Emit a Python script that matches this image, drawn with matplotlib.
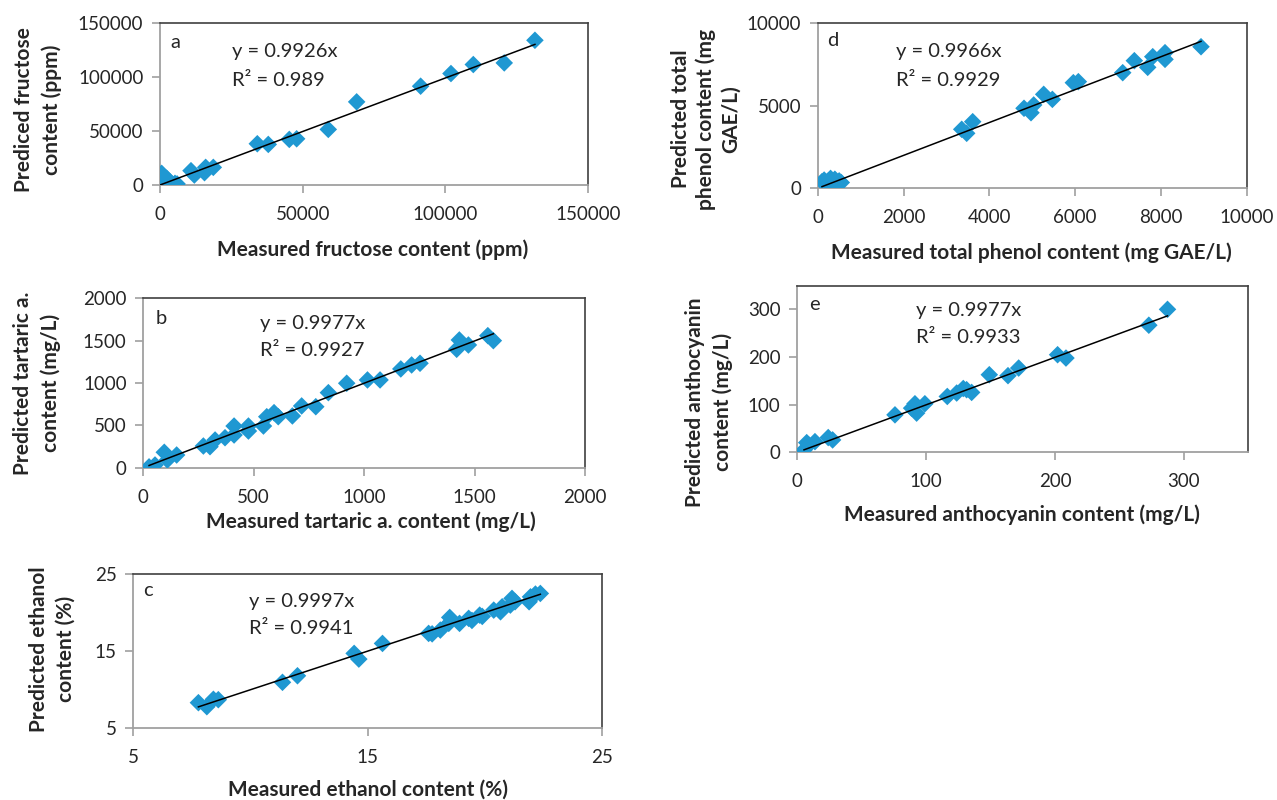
import matplotlib
matplotlib.use("Agg")
import matplotlib.pyplot as plt
import numpy as np

plt.rcParams['font.family'] = ['Lato', 'DejaVu Sans']

# ---------------- data ----------------
# a: fructose (ppm)
a_measured = [131400, 120650, 109800, 101970, 91340, 68920, 58980, 47890, 45310, 37950,
              34100, 18680, 16000, 15600, 10860, 12030, 580, 580, 2330, 300, 5250, 5990, 3500, 1200]
a_predicted = [134250, 113250, 111750, 103400, 91660, 77130, 51570, 42870, 42300, 37650,
               38270, 16360, 16360, 11420, 13270, 9260, 10800, 6200, 6200, 500, 1540, 1000, 3100, 2500]
a_slope, a_r2 = "0.9926", "0.989"

# d: total phenol (mg GAE/L)
d_measured = [8935, 8096, 8096, 7810, 7692, 7381, 7110, 6076, 5959, 5470, 5268, 5035, 4972, 4809,
              3613, 3473, 3357, 100, 150, 200, 250, 300, 350, 400, 450, 500, 550, 300, 200]
d_predicted = [8580, 8220, 7815, 7977, 7330, 7735, 7007, 6463, 6400, 5390, 5695, 5050, 4580, 4850,
               4037, 3333, 3575, 400, 500, 350, 450, 600, 200, 550, 300, 450, 350, 100, 250]
d_slope, d_r2 = "0.9966", "0.9929"

# b: tartaric acid (mg/L)
b_measured = [1585, 1560, 1472, 1431, 1419, 1253, 1215, 1166, 1072, 1015, 921, 838, 781, 717,
              675, 611, 592, 559, 544, 476, 476, 411, 411, 370, 325, 302, 272, 151, 95, 109, 53, 26]
b_predicted = [1500, 1559, 1449, 1508, 1398, 1233, 1213, 1166, 1036, 1036, 997, 886, 720, 729,
               611, 602, 650, 602, 492, 492, 433, 492, 386, 354, 327, 248, 256, 150, 182, 91, 32, 10]
b_slope, b_r2 = "0.9977", "0.9927"

# e: anthocyanin (mg/L)
e_measured = [287.3, 272.8, 208.5, 202.0, 171.8, 163.5, 149.0, 135.3, 131.4, 128.8, 123.7, 116.4,
              99.0, 92.6, 91.3, 88.7, 75.8, 27.4, 24.0, 13.7, 7.3, 5.2, 8.9]
e_predicted = [300.3, 267.0, 198.0, 205.0, 177.0, 161.0, 163.0, 125.8, 131.5, 134.0, 124.5, 117.3,
               102.0, 82.3, 102.0, 92.8, 78.7, 26.0, 31.0, 22.4, 20.3, 4.9, 15.4]
e_slope, e_r2 = "0.9977", "0.9933"

# c: ethanol (%)
c_measured = [7.78, 8.14, 8.42, 8.63, 11.37, 12.01, 14.43, 14.63, 15.64, 17.61, 17.76, 18.11, 18.51,
              18.47, 18.93, 19.32, 19.46, 19.79, 19.90, 20.39, 20.68, 20.75, 21.17, 21.10, 21.30,
              21.96, 22.38, 22.17, 21.90]
c_predicted = [8.32, 7.80, 8.76, 8.71, 10.96, 11.81, 14.71, 13.97, 16.00, 17.30, 17.24, 17.73, 19.37,
               18.60, 18.60, 19.25, 18.98, 19.67, 19.50, 20.32, 20.10, 20.75, 21.84, 20.97, 21.40,
               22.04, 22.48, 22.40, 21.40]
c_slope, c_r2 = "0.9997", "0.9941"

# ---------------- layout ----------------
W, H = 1277, 800
fig = plt.figure(figsize=(W / 100, H / 100), dpi=100)

def rect(l, r, t, b):
    return [l / W, 1 - b / H, (r - l) / W, (b - t) / H]

def ftext(x, y, s, **kw):
    fig.text(x / W, 1 - y / H, s, **kw)

MC = '#1f98d2'
TICKC = '#262626'

def panel(r, xs, ys, slope, xlim, ylim, xticks, yticks):
    ax = fig.add_axes(r)
    ax.scatter(xs, ys, marker='D', s=80, color=MC, edgecolors='none', zorder=3)
    xl = np.array([min(xs), max(xs)])
    ax.plot(xl, float(slope) * xl, color='black', lw=1.1, zorder=4)
    ax.set_xlim(*xlim)
    ax.set_ylim(*ylim)
    ax.set_xticks(xticks)
    ax.set_yticks(yticks)
    ax.set_xticklabels([str(t) for t in xticks])
    ax.set_yticklabels([str(t) for t in yticks])
    for s in ['left', 'bottom']:
        ax.spines[s].set_color('#a0a0a0')
        ax.spines[s].set_linewidth(1.3)
    for s in ['top', 'right']:
        ax.spines[s].set_color('#404040')
        ax.spines[s].set_linewidth(1.2)
    ax.tick_params(direction='out', length=6, width=1.2, color='#a0a0a0',
                   labelsize=13.5, labelcolor=TICKC, pad=6)
    ax.tick_params(axis='x', pad=9)
    return ax

LBL = dict(fontsize=15, fontweight='bold', color=TICKC, ha='center', va='center')
EQ = dict(fontsize=14.5, color=TICKC, ha='left', va='center')
LS = 1.4

# a
panel(rect(160, 588, 23.3, 185), a_measured, a_predicted, a_slope,
      (0, 150000), (0, 150000), [0, 50000, 100000, 150000], [0, 50000, 100000, 150000])
ftext(170.5, 42, "a", **EQ)
ftext(232, 52, f"y = {a_slope}x", **EQ)
ftext(232, 80, f"R² = {a_r2}", **EQ)
ftext(373, 250, "Measured fructose content (ppm)", **LBL)
ftext(38, 110, "Prediced fructose\ncontent (ppm)", rotation=90, linespacing=LS, **LBL)

# d
panel(rect(817.7, 1246.7, 23.3, 188.3), d_measured, d_predicted, d_slope,
      (0, 10000), (0, 10000), [0, 2000, 4000, 6000, 8000, 10000], [0, 5000, 10000])
ftext(827, 41, "d", **EQ)
ftext(895.5, 52, f"y = {d_slope}x", **EQ)
ftext(895.5, 80, f"R² = {d_r2}", **EQ)
ftext(1031, 253, "Measured total phenol content (mg GAE/L)", **LBL)
ftext(706, 119, "Predicted total\nphenol content (mg\nGAE/L)", rotation=90, linespacing=1.3, **LBL)

# b
panel(rect(143.3, 585, 298.3, 467.7), b_measured, b_predicted, b_slope,
      (0, 2000), (0, 2000), [0, 500, 1000, 1500, 2000], [0, 500, 1000, 1500, 2000])
ftext(156, 318, "b", **EQ)
ftext(260, 323, f"y = {b_slope}x", **EQ)
ftext(260, 351, f"R² = {b_r2}", **EQ)
ftext(371, 522, "Measured tartaric a. content (mg/L)", **LBL)
ftext(37, 383, "Predicted tartaric a.\ncontent (mg/L)", rotation=90, linespacing=LS, **LBL)

# e
panel(rect(797.3, 1248.3, 285.7, 452.3), e_measured, e_predicted, e_slope,
      (0, 350), (0, 350), [0, 100, 200, 300], [0, 100, 200, 300])
ftext(809, 305, "e", **EQ)
ftext(915.5, 310.5, f"y = {e_slope}x", **EQ)
ftext(915.5, 337.5, f"R² = {e_r2}", **EQ)
ftext(1022, 515, "Measured anthocyanin content (mg/L)", **LBL)
ftext(709, 402, "Predicted anthocyanin\ncontent (mg/L)", rotation=90, linespacing=LS, **LBL)

# c
panel(rect(133.3, 601.7, 574, 728.3), c_measured, c_predicted, c_slope,
      (5, 25), (5, 25), [5, 15, 25], [5, 15, 25])
ftext(143, 590, "c", **EQ)
ftext(249, 602, f"y = {c_slope}x", **EQ)
ftext(249, 629, f"R² = {c_r2}", **EQ)
ftext(368, 790, "Measured ethanol content (%)", **LBL)
ftext(52, 649, "Predicted ethanol\ncontent (%)", rotation=90, linespacing=LS, **LBL)

fig.savefig("out.png", dpi=100)
